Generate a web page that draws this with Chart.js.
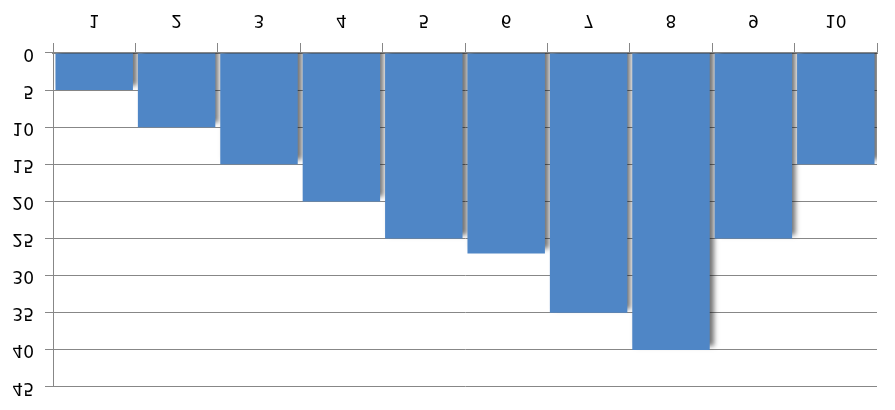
<!DOCTYPE html>
<html>
<head>
<meta charset="utf-8">
<script src="https://cdn.jsdelivr.net/npm/chart.js@4/dist/chart.umd.min.js"></script>
<style>
  body { margin: 0; background: #fff; }
  #chart { display: block; transform: scaleY(-1); }
</style>
</head>
<body>
<canvas id="chart" width="895" height="410"></canvas>
<script>
var categories = ['1', '2', '3', '4', '5', '6', '7', '8', '9', '10'];
var values = [5, 10, 15, 20, 25, 27, 35, 40, 25, 15];
var yTicks = [0, 5, 10, 15, 20, 25, 30, 35, 40, 45];

// soft shadow under the bars, like the office chart
var barShadow = {
  id: 'barShadow',
  beforeDatasetsDraw: function(chart) {
    var ctx = chart.ctx;
    ctx.save();
    ctx.shadowColor = 'rgba(0,0,0,0.55)';
    ctx.shadowBlur = 5;
    ctx.shadowOffsetX = 4;
    ctx.shadowOffsetY = 4;
  },
  afterDatasetsDraw: function(chart) {
    chart.ctx.restore();
  }
};

var gridGray = '#878787';
var tickFont = {family: 'DejaVu Sans', size: 17};

var config = {
  type: 'bar',
  data: {
    labels: categories,
    datasets: [{
      data: values,
      backgroundColor: '#4F86C6',
      borderWidth: 0,
      barPercentage: 0.94,
      categoryPercentage: 1.0
    }]
  },
  options: {
    responsive: false,
    animation: false,
    layout: {padding: {top: 23, right: 18, left: 0, bottom: 0}},
    plugins: {legend: {display: false}, tooltip: {enabled: false}},
    scales: {
      x: {
        offset: true,
        grid: {offset: true, drawOnChartArea: false, color: gridGray, tickLength: 10},
        border: {color: gridGray, width: 1.5},
        ticks: {color: '#000', font: tickFont, padding: 13, maxRotation: 0},
        afterFit: function(scale) { scale.height = 53; }
      },
      y: {
        min: 0,
        max: 45,
        afterBuildTicks: function(scale) {
          scale.ticks = yTicks.map(function(v) { return {value: v}; });
        },
        grid: {color: gridGray, tickLength: 8},
        border: {color: gridGray},
        ticks: {color: '#000', font: tickFont, padding: 11},
        afterFit: function(scale) { scale.width = 53; }
      }
    }
  },
  plugins: [barShadow]
};

window.onload = function() {
  new Chart(document.getElementById('chart').getContext('2d'), config);
};
</script>
</body>
</html>
